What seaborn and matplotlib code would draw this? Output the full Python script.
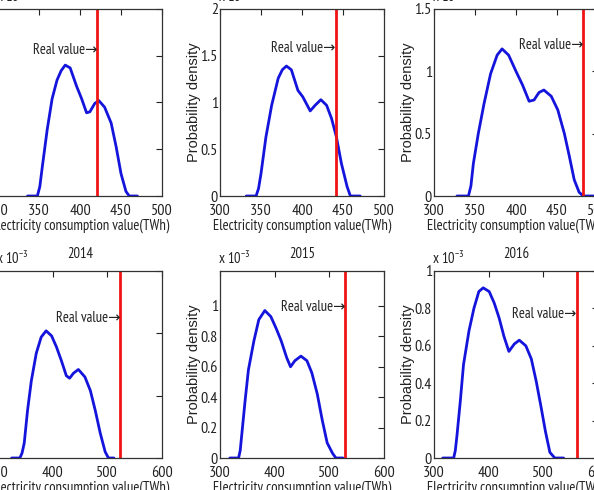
import matplotlib
matplotlib.use('Agg')
import matplotlib.pyplot as plt
import pandas as pd
import seaborn as sns

# years shown in the 2x3 grid (top row titles are outside the crop)
years = [2011, 2012, 2013, 2014, 2015, 2016]
real_values = [421, 441, 482, 524, 529, 561]  # TWh
label_heights = [1.56, 1.58, 1.21, 1.12, 0.99, 0.77]  # x 1e-3, where "Real value" sits

# estimated density curves, density in units of 1e-3
x_2011 = [336, 348, 351, 354, 360, 366, 372, 377, 382, 388, 396, 402, 408, 412, 418, 423, 430, 438, 444, 450, 456, 460, 470]
y_2011 = [0, 0, 0.10, 0.31, 0.71, 1.04, 1.24, 1.34, 1.40, 1.37, 1.17, 1.04, 0.89, 0.90, 0.99, 1.02, 0.95, 0.78, 0.53, 0.24, 0.05, 0, 0]

x_2012 = [332, 344, 347, 350, 356, 363, 371, 376, 381, 387, 395, 401, 410, 416, 423, 430, 436, 442, 448, 455, 459, 471]
y_2012 = [0, 0, 0.08, 0.24, 0.63, 0.97, 1.26, 1.35, 1.39, 1.35, 1.13, 1.06, 0.91, 0.97, 1.03, 0.97, 0.83, 0.63, 0.35, 0.10, 0, 0]

x_2013 = [328, 342, 345, 348, 354, 361, 369, 377, 383, 391, 400, 408, 416, 422, 428, 434, 443, 451, 459, 465, 471, 477, 482, 495]
y_2013 = [0, 0, 0.08, 0.26, 0.50, 0.74, 0.98, 1.13, 1.18, 1.13, 1.00, 0.89, 0.76, 0.77, 0.83, 0.85, 0.80, 0.69, 0.50, 0.32, 0.13, 0.03, 0, 0]

x_2014 = [325, 340, 344, 348, 354, 361, 370, 379, 388, 398, 407, 416, 425, 431, 438, 447, 459, 469, 478, 487, 496, 502, 512]
y_2014 = [0, 0, 0.04, 0.12, 0.38, 0.62, 0.84, 0.97, 1.02, 0.98, 0.89, 0.78, 0.66, 0.64, 0.68, 0.71, 0.65, 0.54, 0.38, 0.20, 0.05, 0, 0]

x_2015 = [318, 334, 337, 340, 346, 352, 362, 371, 382, 393, 403, 412, 422, 429, 437, 448, 459, 468, 478, 487, 496, 506, 512, 525]
y_2015 = [0, 0, 0.05, 0.16, 0.38, 0.58, 0.77, 0.91, 0.97, 0.93, 0.85, 0.77, 0.66, 0.60, 0.64, 0.67, 0.64, 0.56, 0.42, 0.25, 0.10, 0.03, 0, 0]

x_2016 = [316, 336, 339, 342, 348, 354, 364, 373, 382, 390, 401, 410, 419, 428, 437, 447, 456, 468, 478, 487, 496, 504, 512, 521, 537]
y_2016 = [0, 0, 0.04, 0.12, 0.30, 0.50, 0.68, 0.80, 0.89, 0.91, 0.89, 0.83, 0.75, 0.65, 0.57, 0.61, 0.63, 0.60, 0.53, 0.41, 0.27, 0.14, 0.03, 0, 0]

curves = {2011: (x_2011, y_2011), 2012: (x_2012, y_2012), 2013: (x_2013, y_2013),
          2014: (x_2014, y_2014), 2015: (x_2015, y_2015), 2016: (x_2016, y_2016)}

x_limits = [(300, 500)] * 3 + [(300, 600)] * 3
x_ticks = [[300, 350, 400, 450, 500]] * 3 + [[300, 400, 500, 600]] * 3
y_limits = [2, 2, 1.5, 1.5, 1.23, 1.0]
y_ticks = [[0, 0.5, 1, 1.5, 2], [0, 0.5, 1, 1.5, 2], [0, 0.5, 1, 1.5],
           [0, 0.5, 1, 1.5], [0, 0.2, 0.4, 0.6, 0.8, 1], [0, 0.2, 0.4, 0.6, 0.8, 1]]

frames = []
for yr in years:
    xs, ys = curves[yr]
    frames.append(pd.DataFrame({'year': yr, 'consumption': xs, 'density': ys}))
df = pd.concat(frames, ignore_index=True)

sns.set_style('white')
narrow = ['PT Sans Narrow', 'Roboto Condensed', 'DejaVu Sans']
plt.rcParams['font.family'] = narrow
plt.rcParams['mathtext.fontset'] = 'custom'
plt.rcParams['mathtext.rm'] = 'PT Sans Narrow'

W, H = 594, 490
fig = plt.figure(figsize=(W / 100, H / 100), dpi=100)

col_left = [-2, 220, 434]
row_top = [9, 271]
ax_w, ax_h = 164, 187
txt = '#222222'

for i, yr in enumerate(years):
    r, c = divmod(i, 3)
    left = col_left[c] / W
    bottom = (H - row_top[r] - ax_h) / H
    ax = fig.add_axes([left, bottom, ax_w / W, ax_h / H])

    sns.lineplot(data=df[df['year'] == yr], x='consumption', y='density',
                 color='#1414dc', lw=2, ax=ax)
    ax.axvline(real_values[i], color='#f01414', lw=2)
    ax.text(real_values[i], label_heights[i], 'Real value\u2192', ha='right', va='center',
            fontsize=10.5, color=txt, family=narrow)

    ax.set_xlim(*x_limits[i])
    ax.set_ylim(0, y_limits[i])
    ax.set_xticks(x_ticks[i])
    ax.set_yticks(y_ticks[i])
    ax.set_yticklabels(['%g' % t for t in y_ticks[i]])
    ax.tick_params(direction='in', length=4, width=0.8, top=True, right=True,
                   labelsize=11.5, pad=5.5, colors=txt)
    ax.tick_params(axis='y', pad=1.5)
    for s in ax.spines.values():
        s.set_linewidth(0.9)
        s.set_color('#333333')

    ax.set_xlabel('Electricity consumption value(TWh)', fontsize=10.5, color=txt)
    ax.xaxis.set_label_coords(0.5, -0.118)
    ax.set_ylabel('Probability density', fontsize=10.5, color=txt,
                  family=['Liberation Sans', 'DejaVu Sans'])
    ax.yaxis.set_label_coords(-0.115, 0.5)

    ax.text(-0.01, 1.02, r'x $\mathregular{10^{-3}}$', transform=ax.transAxes,
            ha='left', va='bottom', fontsize=10.5, color=txt)
    if r == 1:
        ax.set_title(str(yr), fontsize=10.5, pad=9, color=txt)

fig.savefig('out.png', dpi=100)
